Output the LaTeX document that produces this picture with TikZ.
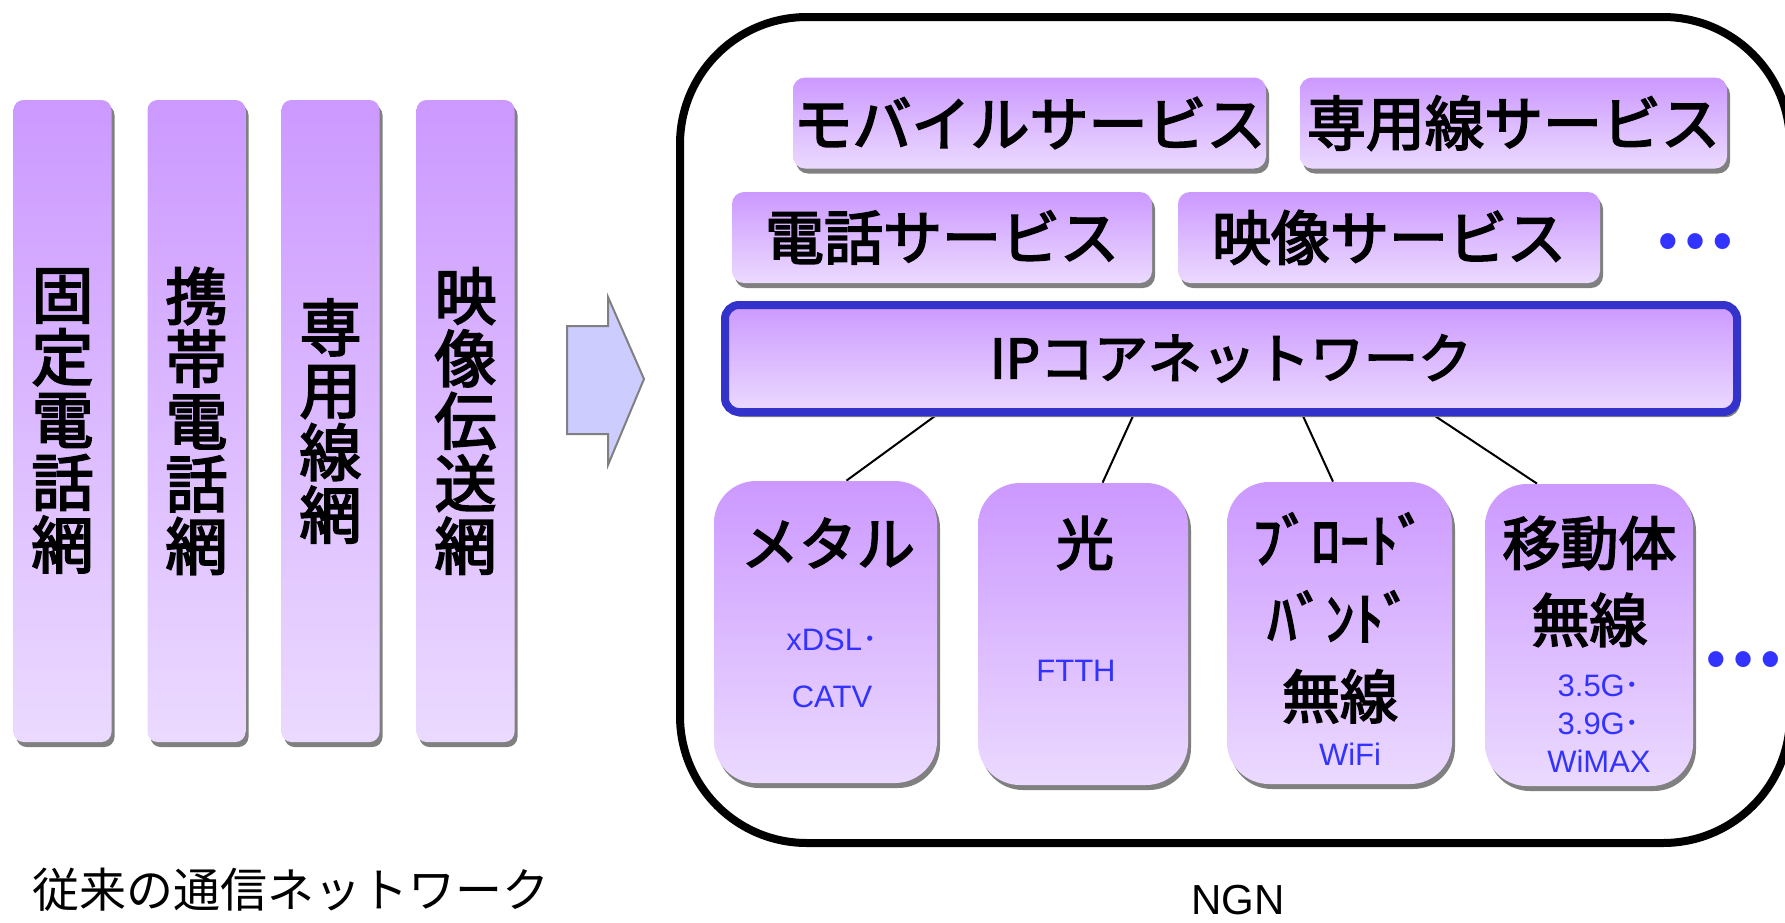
\documentclass[tikz,border=0pt]{standalone}
\usepackage{fontspec}
\newfontfamily\jp{Noto Sans CJK JP}
\newfontfamily\jpm{Noto Sans CJK JP}[FakeBold=3]
\newfontfamily\lat{Liberation Sans}
\usetikzlibrary{shadows,backgrounds}
\definecolor{purpTop}{HTML}{CC99FF}
\definecolor{purpMid}{HTML}{D9B5FF}
\definecolor{purpBot}{HTML}{EBDAFF}
\definecolor{coreBlue}{HTML}{3333CC}
\definecolor{txtBlue}{HTML}{3333FF}
\definecolor{shadowGray}{HTML}{808080}
\definecolor{arrowFill}{HTML}{CCCCFF}

\begin{document}
\begin{tikzpicture}[x=0.5pt,y=-0.5pt] \tikzset{
  purpfill/.style={top color=purpTop, middle color=purpMid, bottom color=purpBot,
    drop shadow={shadow xshift=1.5pt, shadow yshift=-2.5pt, fill=shadowGray, opacity=1}},
  netbar/.style={purpfill, rounded corners=5pt, minimum width=49pt, minimum height=321pt,
    inner sep=0pt, align=center, font=\jpm\fontsize{31}{31.25}\selectfont},
  svcbox/.style={purpfill, rounded corners=6pt, minimum height=45.5pt, inner sep=0pt,
    font=\jpm\fontsize{29.5}{30}\selectfont},
  corebox/.style={purpfill, draw=coreBlue, line width=4pt, rounded corners=7pt,
    minimum width=506pt, minimum height=53.5pt, inner sep=0pt, font=\jpm\fontsize{27}{27}\selectfont},
  accbox/.style={purpfill, rounded corners=21pt, minimum height=151pt, inner sep=0pt},
  bigtxt/.style={inner sep=0pt, align=center, font=\jpm\fontsize{29}{38.5}\selectfont},
  bluetxt/.style={inner sep=0pt, align=center, text=txtBlue, font=\lat\fontsize{15.5}{19}\selectfont},
  moretxt/.style={inner sep=0pt, text=txtBlue, font=\jp\bfseries\fontsize{36}{36}\selectfont}
}
\useasboundingbox (0,0) rectangle (1785,922);

% conventional networks
\node[netbar] (fixed) at (62.5,421) {固\\定\\電\\話\\網};
\node[netbar] (mobile) at (196.5,421) {携\\帯\\電\\話\\網};
\node[netbar] (leased) at (330.5,421) {専\\用\\線\\網};
\node[netbar] (video) at (465.5,421) {映\\像\\伝\\送\\網};
\node[inner sep=0pt, font=\jp\fontsize{23.5}{23.5}\selectfont] (oldlbl) at (291,890) {従来の通信ネットワーク};

% arrow
\draw[fill=arrowFill, draw=shadowGray, line width=1pt] (567,326) -- (608,326) -- (608,297)
  -- (644,379) -- (608,465) -- (608,434) -- (567,434) -- cycle;

% NGN
\node[draw, line width=4pt, rounded corners=63.5pt, minimum width=555pt, minimum height=413pt,
  inner sep=0pt] (ngn) at (1235,430) {};
\node[inner sep=0pt, font=\lat\fontsize{21}{21}\selectfont] (ngnlbl) at (1238,900) {NGN};

\node[svcbox, minimum width=236.5pt] (svcmob) at (1029.5,123) {モバイルサービス};
\node[svcbox, minimum width=213.5pt] (svcleased) at (1513.5,123) {専用線サービス};
\node[svcbox, minimum width=210pt] (svctel) at (942,237.5) {電話サービス};
\node[svcbox, minimum width=211pt] (svcvideo) at (1389,237.5) {映像サービス};
\node[moretxt] (svcmore) at (1695,242) {…};

\node[corebox] (core) at (1231,358.5) {IPコアネットワーク};

\node[accbox, minimum width=111.5pt] (metal) at (825.5,632) {};
\node[accbox, minimum width=105pt] (fiber) at (1083,634) {};
\node[accbox, minimum width=112.5pt] (bwa) at (1339.5,633) {};
\node[accbox, minimum width=104pt] (mwa) at (1589,635) {};
\node[moretxt] (accmore) at (1743,660) {…};

\node[bigtxt] (metaltxt) at (828,543) {メタル};
\node[bluetxt, font=\lat\fontsize{15.5}{28.5}\selectfont] (metalsub) at (832,668) {xDSL{\jp ･}\\CATV};
\node[bigtxt] (fibertxt) at (1085,543) {光};
\node[bluetxt] (fibersub) at (1076,671) {FTTH};
\node[bigtxt, font=\jpm\fontsize{29}{39}\selectfont] (bwatxt) at (1340,618) {ﾌﾞﾛｰﾄﾞ\\ﾊﾞﾝﾄﾞ\\無線};
\node[bluetxt] (bwasub) at (1350,754) {WiFi};
\node[bigtxt] (mwatxt) at (1589.5,581.5) {移動体\\無線};
\node[bluetxt] (mwasub) at (1599,724) {3.5G{\jp ･}\\3.9G{\jp ･}\\WiMAX};

\begin{scope}[on background layer]
\draw[line width=1pt] ([xshift=-148pt]core.south) -- ([xshift=10.5pt]metal.north);
\draw[line width=1pt] ([xshift=-49pt]core.south) -- ([xshift=9.8pt]fiber.north);
\draw[line width=1pt] ([xshift=36pt]core.south) -- ([xshift=-3.25pt]bwa.north);
\draw[line width=1pt] ([xshift=102pt]core.south) -- ([xshift=-26pt]mwa.north);
\end{scope}
\end{tikzpicture}
\end{document}
